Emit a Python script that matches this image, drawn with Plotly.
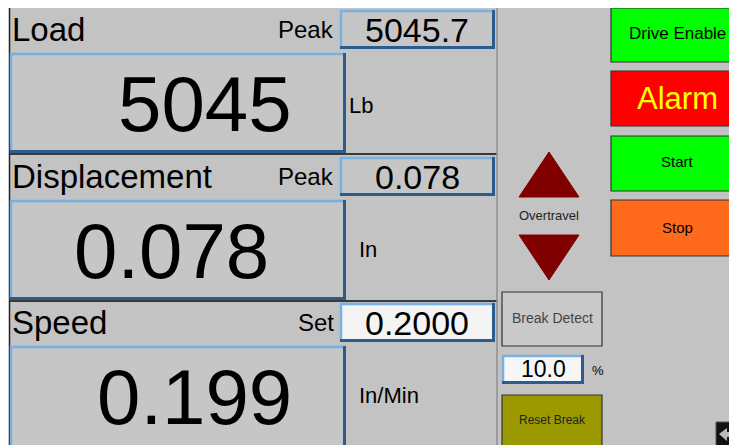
import plotly.graph_objects as go

# ---- data ----
labels = ["Load", "Displacement", "Speed"]
values = ["5045", "0.078", "0.199"]
sub_labels = ["Peak", "Peak", "Set"]
sub_values = ["5045.7", "0.078", "0.2000"]
units = ["Lb", "In", "In/Min"]
buttons = ["Drive Enable", "Alarm", "Start", "Stop"]
overtravel_label = "Overtravel"
break_label = "Break Detect"
break_pct = "10.0"
reset_label = "Reset Break"

W, H = 737, 445
OFF = 8  # page body margin
BG = "#c3c3c3"
BOX = "#c6c6c6"
LIGHT = "#78b0e4"
DARK = "#2b5c8c"
FONT = "Liberation Sans, Arial, sans-serif"

shapes = []
ann = []


def rect(x0, y0, x1, y1, fill, line=None, lw=0):
    shapes.append(dict(type="rect", x0=x0, y0=y0, x1=x1, y1=y1, fillcolor=fill,
                       line=dict(color=line or fill, width=lw), layer="below"))


def line(x0, y0, x1, y1, color, w):
    shapes.append(dict(type="line", x0=x0, y0=y0, x1=x1, y1=y1,
                       line=dict(color=color, width=w), layer="below"))


def bevel(x0, y0, x1, y1, fill):
    rect(x0, y0, x1, y1, fill)
    line(x0, y0 + 1, x1, y0 + 1, LIGHT, 2.5)
    line(x0 + 1, y0, x0 + 1, y1, LIGHT, 2.5)
    line(x0, y1 - 1.5, x1, y1 - 1.5, DARK, 3)
    line(x1 - 1.5, y0, x1 - 1.5, y1, DARK, 3)


def text(x, y, s, size, color="#000", xanchor="left"):
    ann.append(dict(x=x, y=y, text=s, showarrow=False, xanchor=xanchor, yanchor="middle",
                    font=dict(family=FONT, size=size, color=color), xref="x", yref="y"))


# background
rect(9, 8, W + 2, H + 2, BG)
line(9.5, 8, 9.5, H, "#222", 1.5)

tops = [8, 155, 301]
big_right = [294, 271, 294]
unit_x = [347, 357, 357]
unit_dy = [97, 94, 94]
for i, t in enumerate(tops):
    # header
    text(10, t + 21, labels[i], 33)
    text(336, t + 21, sub_labels[i], 24, xanchor="right")
    sub_fill = "#f4f4f4" if sub_labels[i] == "Set" else BOX
    bevel(340, t + 2, 495, t + 41, sub_fill)
    text(417, t + 22, sub_values[i], 34, xanchor="center")
    # big box
    y1 = t + 145 if i < 2 else H + 3
    bevel(10, t + 45, 346, y1, BOX)
    text(big_right[i], t + 96, values[i], 78, xanchor="right")
    text(unit_x[i], t + unit_dy[i], units[i], 22)
    if i < 2:
        line(10, t + 146, 497, t + 146, "#3a3a3a", 2)

# left panel right border
line(497, 8, 497, H + 2, "#8f8f8f", 1.5)

# overtravel triangles
shapes.append(dict(type="path", path="M 549 152 L 579 197 L 519 197 Z",
                   fillcolor="#800000", line=dict(color="#800000", width=1)))
shapes.append(dict(type="path", path="M 519 235 L 579 235 L 549 280 Z",
                   fillcolor="#800000", line=dict(color="#800000", width=1)))
text(549, 215, overtravel_label, 13, "#222", xanchor="center")

# break detect
rect(502, 292, 602, 346, "#c9c9c9", "#333", 1.2)
text(552, 318, break_label, 14, "#444", xanchor="center")
bevel(502, 355, 584, 384, "#f6f6f6")
text(543, 369, break_pct, 23, xanchor="center")
text(590, 370, "%", 13)
rect(502, 395, 602, H + 2, "#9a9a00", "#333", 1.2)
text(552, 420, reset_label, 12, "#222", xanchor="center")

# right buttons
btn = [
    (8, 62, "#00ff00", "#000", 17, 33),
    (71, 126, "#ff0000", "#ffff00", 31, 98),
    (136, 191, "#00ff00", "#000", 15, 161),
    (200, 256, "#ff6a1c", "#000", 15, 227),
]
for (y0, y1, fill, fc, fs, ty), lab in zip(btn, buttons):
    rect(611, y0, W + 2, y1, fill, "#333", 1.2)
    text(677, ty, lab, fs, fc, xanchor="center")

# small back icon
rect(716, 422, W + 2, H + 2, "#111", "#555", 1)
shapes.append(dict(type="path", path="M 719 434 L 727 428 L 727 432 L 737 432 L 737 437 L 727 437 L 727 441 Z",
                   fillcolor="#bbbbbb", line=dict(width=0)))

fig = go.Figure()
fig.update_layout(
    width=W - OFF, height=H - OFF, margin=dict(l=0, r=0, t=0, b=0),
    paper_bgcolor="#ffffff", plot_bgcolor="#ffffff",
    xaxis=dict(range=[OFF, W], visible=False, fixedrange=True),
    yaxis=dict(range=[H, OFF], visible=False, fixedrange=True),
    shapes=shapes, annotations=ann, showlegend=False,
)
fig.write_html("out.html")
